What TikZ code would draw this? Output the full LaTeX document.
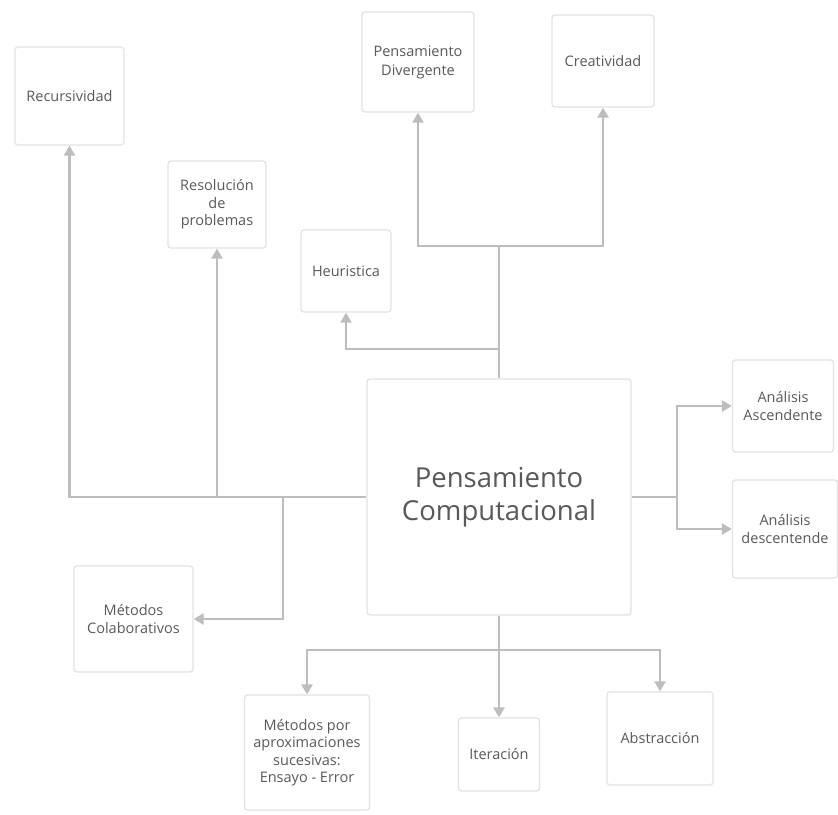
\documentclass[tikz,border=0pt]{standalone}
\usepackage{fontspec}
\setmainfont{Open Sans}
\usetikzlibrary{arrows.meta}

\definecolor{boxgray}{HTML}{E2E2E2}
\definecolor{linegray}{HTML}{BDBDBD}
\definecolor{textgray}{HTML}{595959}

\tikzset{
  topic/.style={draw=boxgray, line width=1.3pt, rounded corners=3pt, fill=white,
    align=center, text=textgray, font=\fontsize{14.5}{17.5}\selectfont, inner sep=2pt},
  link/.style={draw=linegray, line width=2.8pt},
  linkarr/.style={link, -{Triangle[length=10pt,width=11pt]}}
}

\begin{document}
\begin{tikzpicture}[x=1pt,y=-1pt]
            \useasboundingbox[fill=white] (0,0) rectangle (838,814);
            % central box
            \node[topic, minimum width=264pt, minimum height=236pt, font=\fontsize{27.5}{33}\selectfont] (pc) at (499,497) {Pensamiento\\Computacional};
            % boxes round it
            \node[topic, minimum width=109pt, minimum height=98pt] (rec) at (69.5,96) {Recursividad};
            \node[topic, minimum width=98pt, minimum height=87pt] (res) at (217,204.5) {Resoluci\'on\\de\\problemas};
            \node[topic, minimum width=90pt, minimum height=82pt] (heu) at (346,271) {Heuristica};
            \node[topic, minimum width=112pt, minimum height=100pt, font=\fontsize{14.5}{19}\selectfont] (div) at (418,62) {Pensamiento\\Divergente};
            \node[topic, minimum width=102pt, minimum height=92pt] (cre) at (603,61) {Creatividad};
            \node[topic, minimum width=101pt, minimum height=92pt] (asc) at (783,406) {An\'alisis\\Ascendente};
            \node[topic, minimum width=105pt, minimum height=98pt] (des) at (785,529) {An\'alisis\\descentende};
            \node[topic, minimum width=119pt, minimum height=106pt] (col) at (133.5,619) {M\'etodos\\Colaborativos};
            \node[topic, minimum width=125pt, minimum height=115pt] (apr) at (307,752.5) {M\'etodos por\\aproximaciones\\sucesivas:\\Ensayo - Error};
            \node[topic, minimum width=81pt, minimum height=73pt] (ite) at (499,754.5) {Iteraci\'on};
            \node[topic, minimum width=106pt, minimum height=93pt] (abs) at (660,738.5) {Abstracci\'on};
            % joints
            \coordinate (jl) at (283,497);
            \coordinate (jt) at (499,246);
            \coordinate (jh) at (499,349);
            \coordinate (jr) at (677,497);
            \coordinate (jb) at (499,650);
            % left
            \draw[linkarr] (pc.west) -| (rec.south);
            \draw[linkarr] (pc.west) -| (res.south);
            \draw[linkarr] (jl) |- (col.east);
            % top
            \draw[link] (pc.north) -- (jt);
            \draw[linkarr] (jt) -| (div.south);
            \draw[linkarr] (jt) -| (cre.south);
            \draw[linkarr] (jh) -| (heu.south);
            % right
            \draw[link] (pc.east) -- (jr);
            \draw[linkarr] (jr) |- (asc.west);
            \draw[linkarr] (jr) |- (des.west);
            % bottom
            \draw[linkarr] (pc.south) -- (ite.north);
            \draw[linkarr] (jb) -| (apr.north);
            \draw[linkarr] (jb) -| (abs.north);
        \end{tikzpicture}
\end{document}
